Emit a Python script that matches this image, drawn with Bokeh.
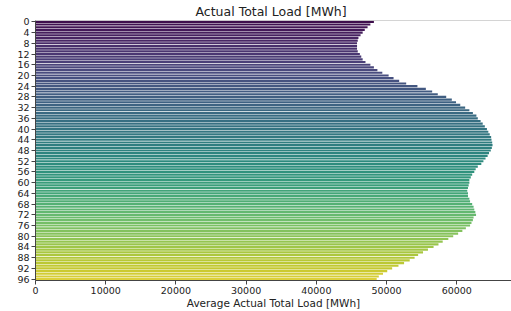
import colorsys
import numpy as np
from bokeh.plotting import figure
from bokeh.models import Range1d, FixedTicker, Span, ColumnDataSource
from bokeh.palettes import Viridis256
from bokeh.embed import file_html
from bokeh.resources import INLINE

# ---- data ----
slots = list(range(97))
avg_load = [
    48200, 47700, 47300, 46900, 46600, 46300, 46000, 45900, 45800, 45800,
    45800, 45900, 46200, 46400, 46600, 47000, 47700, 48200, 48700, 49400,
    50300, 51000, 51800, 52800, 54400, 55600, 56500, 57300, 58500, 59300,
    59900, 60500, 61200, 61800, 62300, 62800, 63000, 63400, 63700, 64000,
    64300, 64500, 64700, 64900, 64950, 65050, 65100, 65000, 64850, 64600,
    64400, 64100, 63800, 63500, 63000, 62700, 62500, 62200, 62000, 61800,
    61800, 61700, 61600, 61500, 61600, 61600, 61800, 61900, 62200, 62400,
    62500, 62650, 62750, 62400, 62300, 62100, 61900, 61300, 60800, 60200,
    59500, 58800, 58000, 57400, 56700, 55900, 55200, 54500, 54000, 53300,
    52500, 51700, 50800, 50100, 49500, 48900, 48600,
]
x_ticks = [0, 10000, 20000, 30000, 40000, 50000, 60000]
y_ticks = list(range(0, 97, 4))
title_text = "Actual Total Load [MWh]"
xlabel_text = "Average Actual Total Load [MWh]"

FONT = "DejaVu Sans"


def desaturate(hexc, prop=0.75):
    r, g, b = (int(hexc[i:i + 2], 16) / 255 for i in (1, 3, 5))
    h, l, s = colorsys.rgb_to_hls(r, g, b)
    r, g, b = colorsys.hls_to_rgb(h, l, s * prop)
    return "#%02x%02x%02x" % tuple(int(round(c * 255)) for c in (r, g, b))


n = len(slots)
bins = np.linspace(0, 1, n + 2)[1:-1]
colors = [desaturate(Viridis256[min(int(b * 256), 255)]) for b in bins]

src = ColumnDataSource(dict(y=slots, right=avg_load, color=colors))

p = figure(
    width=511, height=311, output_backend="svg", toolbar_location=None,
    x_range=Range1d(0, 67800), y_range=Range1d(96.5, -0.5),
    min_border_left=35, min_border_right=0, min_border_top=19, min_border_bottom=28,
    background_fill_color="white", border_fill_color="white",
    x_axis_label=xlabel_text,
)
p.outline_line_color = None
p.grid.visible = False

p.hbar(y="y", left=0, right="right", height=0.8, fill_color="color",
       line_color=None, source=src)

top_spine = Span(location=-0.5, dimension="width", line_color="#aaaaaa", line_width=1)
p.add_layout(top_spine)

for ax in (p.xaxis[0], p.yaxis[0]):
    ax.axis_line_color = "#444444"
    ax.major_tick_line_color = "#444444"
    ax.minor_tick_line_color = None
    ax.major_tick_in = 0
    ax.major_tick_out = 4
    ax.major_label_standoff = 2
    ax.major_label_text_font = FONT
    ax.major_label_text_font_size = "9.5px"
    ax.major_label_text_color = "#222222"

p.xaxis[0].ticker = FixedTicker(ticks=x_ticks)
p.yaxis[0].ticker = FixedTicker(ticks=y_ticks)
p.xaxis[0].axis_label_standoff = 0
p.xaxis[0].axis_label_text_font = FONT
p.xaxis[0].axis_label_text_font_size = "10.5px"
p.xaxis[0].axis_label_text_font_style = "normal"
p.xaxis[0].axis_label_text_color = "#222222"

p.title.text = title_text
p.title.text_font = FONT
p.title.text_font_size = "12.5px"
p.title.text_font_style = "normal"
p.title.text_color = "#222222"
p.title.align = "left"
p.title.offset = 160
p.title.standoff = 3

open("out.html", "w").write(file_html(p, INLINE))
